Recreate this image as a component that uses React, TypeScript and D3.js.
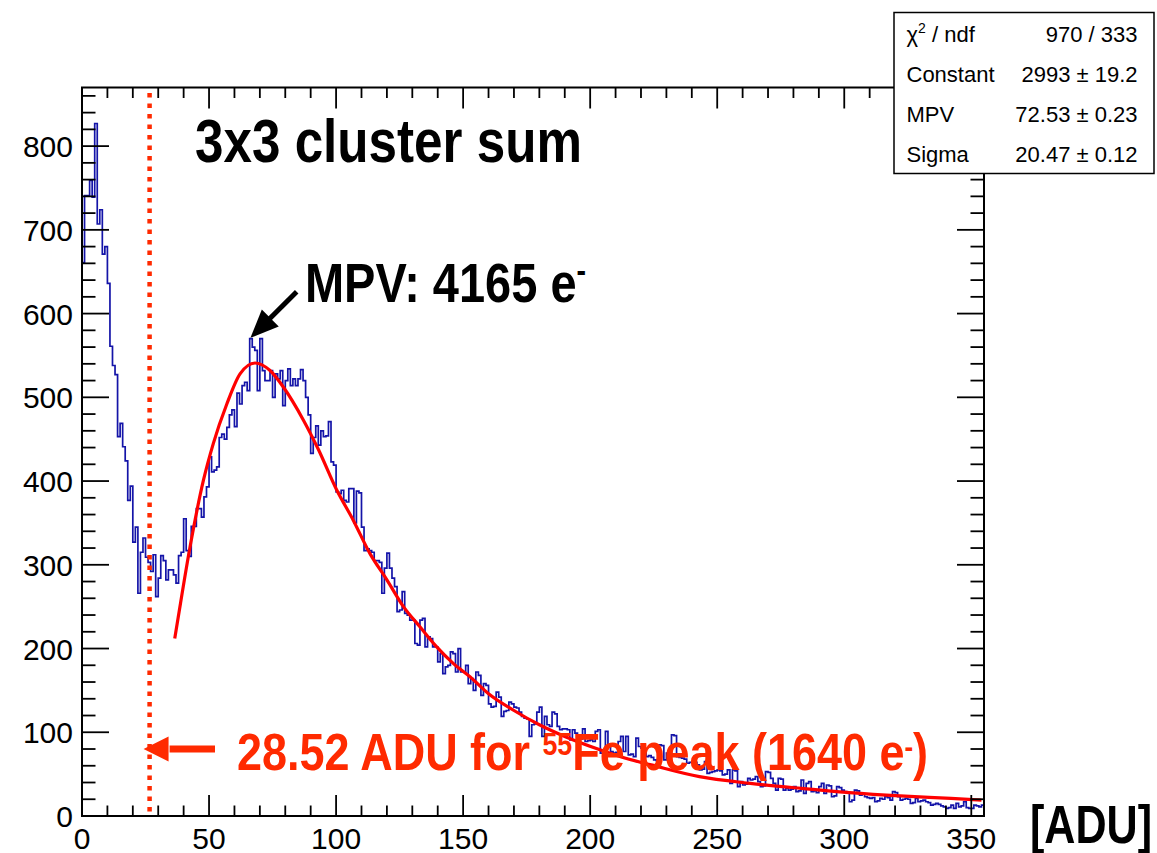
import React from 'react'
import * as d3 from 'd3'

const W = 1157
const H = 853
const frame = { left: 82, right: 984, top: 87.5, bottom: 816 }

// bin contents, 1 ADU bins
const countsNoise = [
  661, 741, 741, 759, 739, 827, 707, 724, 671, 680,
  636, 561, 538, 527, 453, 469, 441, 424, 377, 394,
  327, 345, 266, 315, 332, 309, 303, 292, 312, 262,
  284, 311, 305, 282, 294, 294, 288, 278, 311, 315,
  355, 317, 310, 346, 346, 367, 367, 357, 381, 393,
]
const countsPeak = [
  429, 411, 413, 417, 452, 456, 450, 464, 479, 485,
  465, 505, 492, 514, 518, 508, 570, 560, 556, 508,
  570, 532, 520, 520, 532, 500, 528, 522, 532, 490,
  520, 534, 514, 522, 514, 522, 533, 520, 500, 479,
  433, 452, 466, 443, 460, 453, 454, 471, 423, 419,
]
const countsFall = [
  387, 385, 389, 377, 375, 391, 391, 350, 388, 386,
  345, 317, 319, 317, 315, 305, 305, 303, 266, 296,
  314, 296, 284, 274, 244, 246, 268, 242, 240, 234,
  234, 206, 204, 234, 236, 202, 214, 212, 202, 202,
  184, 194, 170, 178, 180, 196, 194, 172, 200, 172,
]
const countsTail1 = [
  172, 180, 158, 164, 150, 172, 168, 144, 158, 156,
  134, 130, 131, 148, 142, 119, 125, 126, 136, 134,
  130, 129, 124, 119, 117, 116, 95, 109, 110, 124,
  130, 95, 119, 109, 107, 124, 122, 107, 103, 104,
  104, 103, 91, 103, 99, 91, 92, 104, 89, 90,
]
const countsTail2 = [
  91, 89, 101, 103, 75, 77, 101, 83, 77, 75,
  76, 89, 95, 77, 95, 73, 74, 71, 93, 83,
  81, 80, 71, 72, 70, 67, 66, 85, 84, 67,
  75, 74, 97, 96, 71, 70, 69, 68, 63, 64,
  65, 64, 61, 55, 56, 65, 51, 52, 53, 54,
]
const countsTail3 = [
  55, 54, 49, 50, 55, 39, 55, 54, 35, 41,
  37, 38, 45, 43, 44, 47, 41, 35, 36, 53,
  52, 45, 39, 31, 45, 44, 31, 33, 31, 32,
  35, 29, 30, 43, 27, 39, 41, 29, 30, 28,
]
const countsTail4 = [
  35, 39, 27, 37, 36, 23, 24, 35, 34, 31,
  29, 28, 17, 19, 31, 30, 25, 26, 23, 22,
  21, 22, 17, 18, 21, 20, 23, 22, 19, 29,
  28, 23, 19, 20, 21, 20, 15, 16, 21, 17,
  18, 19, 17, 16, 13, 14, 15, 14, 12, 11,
  9, 10, 13, 9, 15, 11, 12, 17, 10, 9,
  9, 13, 12, 11, 13,
]
const counts = [
  ...countsNoise, ...countsPeak, ...countsFall,
  ...countsTail1, ...countsTail2, ...countsTail3, ...countsTail4,
]

// Landau fit curve
const fitADU = [36.5, 37.9, 42.5, 47.8, 51.7, 57, 62.2, 68.1, 74, 79.3, 87.1, 93, 100.3, 106.8,
  113.4, 120, 126.5, 133, 139.6, 146.2, 152.8, 160, 170, 180, 190, 203, 215, 224, 243, 263,
  283, 302, 322, 342, 354]
const fitCounts = [212, 238, 321, 401, 445, 492, 528, 541, 532, 512, 473, 438, 389, 353,
  313, 282, 250, 226, 202, 182, 166, 146, 126, 109, 95, 80, 68, 61, 47, 39,
  33, 28, 24, 21, 19]

const xMajorTicks = [0, 50, 100, 150, 200, 250, 300, 350]
const yMajorTicks = [0, 100, 200, 300, 400, 500, 600, 700, 800]
const statLabels = ['ndf', 'Constant', 'MPV', 'Sigma']
const statValues = ['970 / 333', '2993 ± 19.2', '72.53 ± 0.23', '20.47 ± 0.12']

const markerADU = 26.6 // where the dotted line sits
const mpvTip = { adu: 66.3, count: 571 }
const mpvTail = { adu: 84.5, count: 626 }

const FONT = '"Liberation Sans", Arial, Helvetica, sans-serif'
const RED = '#ff2a00'
const BLUE = '#1414a8'

function arrowHead(tx: number, ty: number, fx: number, fy: number, len: number, half: number) {
  const dx = tx - fx, dy = ty - fy
  const n = Math.hypot(dx, dy)
  const ux = dx / n, uy = dy / n
  const bx = tx - ux * len, by = ty - uy * len
  return `${tx},${ty} ${bx - uy * half},${by + ux * half} ${bx + uy * half},${by - ux * half}`
}

export default function App() {
  const x = d3.scaleLinear().domain([0, 355]).range([frame.left, frame.right])
  const y = d3.scaleLinear().domain([0, 870]).range([frame.bottom, frame.top])

  const histPath = d3.line<number>()
    .x((d, i) => x(i))
    .y(d => y(d))
    .curve(d3.curveStepAfter)([...counts, counts[counts.length - 1]])

  const fitPath = d3.line<number>()
    .x(d => x(d))
    .y((d, i) => y(fitCounts[i]))
    .curve(d3.curveMonotoneX)(fitADU)

  const xMinor = d3.range(0, 356, 10)
  const yMinor = d3.range(0, 870, 20)

  const mx0 = x(mpvTail.adu), my0 = y(mpvTail.count)
  const mx1 = x(mpvTip.adu), my1 = y(mpvTip.count)

  const rx = x(markerADU)
  const ry = y(80)

  return (
    <svg width={W} height={H} style={{ position: 'absolute', left: 0, top: 0, background: '#fff' }}>
      <defs>
        <clipPath id="plot">
          <rect x={frame.left} y={frame.top} width={frame.right - frame.left} height={frame.bottom - frame.top} />
        </clipPath>
      </defs>

      {/* histogram and fit */}
      <g clipPath="url(#plot)">
        <path d={histPath || ''} fill="none" stroke={BLUE} strokeWidth={1.7} />
        <path d={fitPath || ''} fill="none" stroke="#ff0000" strokeWidth={3.2} />
      </g>

      {/* ticks */}
      <g stroke="#000" strokeWidth={1.8}>
        {xMinor.map(t => {
          const major = t % 50 === 0
          const l = major ? 21 : 10.5
          return (
            <g key={'x' + t}>
              <line x1={x(t)} x2={x(t)} y1={frame.bottom} y2={frame.bottom - l} />
              <line x1={x(t)} x2={x(t)} y1={frame.top} y2={frame.top + l} />
            </g>
          )
        })}
        {yMinor.map(t => {
          const major = t % 100 === 0
          const l = major ? 27 : 13.5
          return (
            <g key={'y' + t}>
              <line x1={frame.left} x2={frame.left + l} y1={y(t)} y2={y(t)} />
              <line x1={frame.right} x2={frame.right - l} y1={y(t)} y2={y(t)} />
            </g>
          )
        })}
      </g>
      <rect x={frame.left} y={frame.top} width={frame.right - frame.left} height={frame.bottom - frame.top}
        fill="none" stroke="#000" strokeWidth={2} />

      {/* tick labels */}
      <g fontFamily={FONT} fontSize={30} fill="#000">
        {yMajorTicks.map(t => (
          <text key={t} x={73} y={y(t) + 11} textAnchor="end">{t}</text>
        ))}
        {xMajorTicks.map(t => (
          <text key={t} x={x(t)} y={849} textAnchor="middle">{t}</text>
        ))}
      </g>

      {/* dotted marker and red arrow */}
      <line x1={rx} x2={rx} y1={93} y2={814} stroke={RED} strokeWidth={4.5} strokeDasharray="4.5 6" />
      <line x1={rx + 20} x2={215} y1={ry} y2={ry} stroke={RED} strokeWidth={7} />
      <polygon points={arrowHead(rx - 6, ry, 215, ry, 25, 12.5)} fill={RED} />

      {/* MPV arrow */}
      <line x1={mx0} y1={my0} x2={mx1 + (mx0 - mx1) * 0.3} y2={my1 + (my0 - my1) * 0.3} stroke="#000" strokeWidth={5} />
      <polygon points={arrowHead(mx1, my1, mx0, my0, 28, 12)} fill="#000" />

      {/* annotations */}
      <g fontFamily={FONT} fontWeight="bold">
        <text x={195} y={162} fontSize={61} textLength={387} lengthAdjust="spacingAndGlyphs">3x3 cluster sum</text>
        <text x={305} y={302} fontSize={56} textLength={281} lengthAdjust="spacingAndGlyphs">
          MPV: 4165 e<tspan fontSize={34} dy={-20}>-</tspan>
        </text>
        <text x={237} y={770} fontSize={52} fill={RED} textLength={691} lengthAdjust="spacingAndGlyphs">
          {'28.52 ADU for '}
          <tspan fontSize={31} dy={-15}>55</tspan>
          <tspan dy={15}>Fe peak (1640 e</tspan>
          <tspan fontSize={30} dy={-13}>-</tspan>
          <tspan dy={13}>)</tspan>
        </text>
        <text x={1030} y={843} fontSize={54} textLength={122} lengthAdjust="spacingAndGlyphs">[ADU]</text>
      </g>

      {/* stats box */}
      <rect x={894} y={12.5} width={260} height={161} fill="#fff" stroke="#000" strokeWidth={1.5} />
      <g fontFamily={FONT} fontSize={22} fill="#000">
        {statLabels.map((s, i) => (
          <text key={s} x={906.5} y={41.5 + i * 40}>
            {i === 0 ? (
              <>
                {'χ'}
                <tspan fontSize={14} dy={-9}>2</tspan>
                <tspan dy={9}>{' / ' + s}</tspan>
              </>
            ) : s}
          </text>
        ))}
        {statValues.map((s, i) => (
          <text key={s} x={1137.5} y={41.5 + i * 40} textAnchor="end">{s}</text>
        ))}
      </g>
    </svg>
  )
}
